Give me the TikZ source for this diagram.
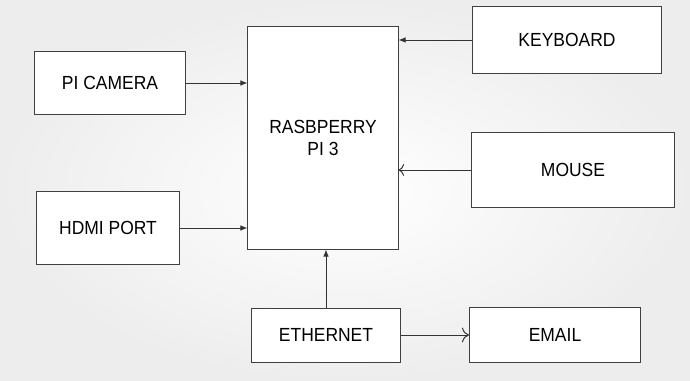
\documentclass[tikz,border=0pt]{standalone}
\usepackage{fontspec}
\setmainfont[FakeStretch=0.92]{Liberation Sans}
\usetikzlibrary{calc, positioning, arrows.meta}

\tikzset{
    blk/.style={draw=black!75, line width=0.7pt, fill=white, font=\fontsize{13.5}{16}\selectfont},
    wire/.style={draw=black!80, line width=0.7pt}
}

\begin{document}
\begin{tikzpicture}[x=0.025cm, y=-0.025cm, auto]
    % background
    \shade[inner color=white, outer color=gray!14] (0,0) rectangle (690,381);
    \useasboundingbox (0,0) rectangle (690,381);
    % main board
    \node[blk, minimum width=3.75cm, minimum height=5.55cm, align=center] (rpi) at (323,138) {RASBPERRY\\PI 3};
    % inputs on the left
    \node[blk, minimum width=3.75cm, minimum height=1.55cm] (cam) at (110,83) {PI CAMERA};
    \node[blk, minimum width=3.55cm, minimum height=1.8cm] (hdmi) at (108,228) {HDMI PORT};
    % inputs on the right
    \node[blk, minimum width=4.725cm, minimum height=1.65cm] (kbd) at (567,40) {KEYBOARD};
    \node[blk, minimum width=5.05cm, minimum height=1.875cm] (mouse) at (573,170) {MOUSE};
    % bottom row
    \node[blk, minimum width=3.725cm, minimum height=1.35cm] (eth) at (326,335) {ETHERNET};
    \node[blk, minimum width=4.275cm, minimum height=1.375cm] (email) at (555,335) {EMAIL};
    % connectors
    \draw[wire, -{Latex[length=5pt, width=4pt]}] (cam.east) -- (cam.east -| rpi.west);
    \draw[wire, -{Latex[length=5pt, width=4pt]}] (hdmi.east) -- (hdmi.east -| rpi.west);
    \draw[wire, -{Latex[length=5pt, width=4pt]}] (kbd.west) -- (kbd.west -| rpi.east);
    \draw[wire, -{To[length=4pt]}] (mouse.west) -- (mouse.west -| rpi.east);
    \draw[wire, -{Latex[length=5pt, width=4pt]}] (eth.north) -- (eth.north |- rpi.south);
    \draw[wire, -{To[length=5pt]}] (eth.east) -- (email.west);
\end{tikzpicture}
\end{document}
